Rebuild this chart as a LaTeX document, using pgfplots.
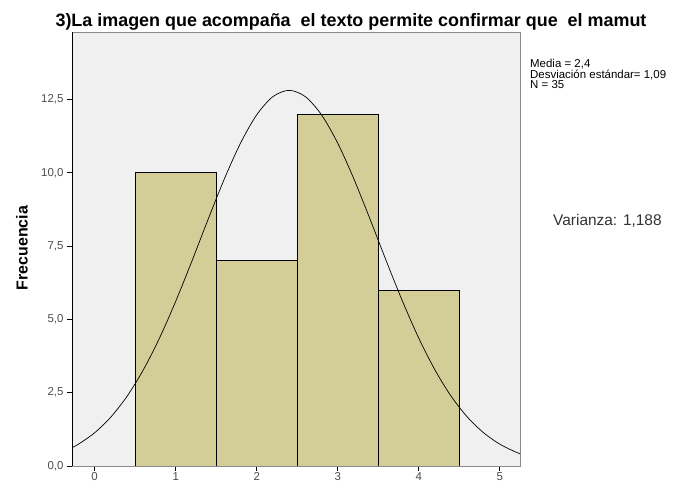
\documentclass[border=0pt]{standalone}
\usepackage{fontspec}
\setmainfont{Liberation Sans}
\usepackage{pgfplots}
\pgfplotsset{compat=1.18}
\definecolor{BarFill}{HTML}{D3CE98}
\definecolor{PlotBg}{HTML}{F0F0F0}
\definecolor{FrameGray}{HTML}{8A8A8A}
\begin{document}
\begin{tikzpicture}
\begin{axis}[
  at={(0,0)}, anchor=south west,
  scale only axis,
  width=448bp, height=434bp,
  xmin=-0.28, xmax=5.25,
  ymin=0, ymax=14.8,
  axis background/.style={fill=PlotBg},
  axis line style={FrameGray, line width=0.9pt},
  xtick={0,1,2,3,4,5},
  ytick={0,2.5,5,7.5,10,12.5},
  tick align=outside,
  xtick pos=bottom, ytick pos=left,
  major tick length=5bp,
  tick style={black, line width=0.8pt},
  yticklabel style={/pgf/number format/.cd, fixed, fixed zerofill, precision=1, use comma},
  xticklabel style={inner sep=1pt},
  /pgf/number format/assume math mode=true,
  tick label style={font=\fontsize{11.5}{13}\selectfont, text=black!70},
  clip=true,
]
\addplot[ybar, bar width=1, bar shift=0, fill=BarFill, draw=black, line width=0.6pt]
  coordinates {(1,10) (2,7) (3,12) (4,6)};
\addplot[black, line width=0.7pt, smooth, no marks] coordinates {
  (-0.3,0.596) (-0.2,0.745) (0.0,1.135) (0.2,1.671) (0.4,2.379) (0.6,3.277)
  (0.8,4.362) (1.0,5.615) (1.2,6.988) (1.4,8.410) (1.6,9.786) (1.8,11.009)
  (2.0,11.976) (2.2,12.596) (2.4,12.81) (2.6,12.596) (2.8,11.976) (3.0,11.009)
  (3.2,9.786) (3.4,8.410) (3.6,6.988) (3.8,5.615) (4.0,4.362) (4.2,3.277)
  (4.4,2.379) (4.6,1.671) (4.8,1.135) (5.0,0.745) (5.2,0.473) (5.3,0.372)
};
\draw[black, line width=0.8pt] (rel axis cs:0,1) -- (rel axis cs:0,0) -- (rel axis cs:1,0);
\end{axis}
\node[anchor=base, inner sep=0pt, font=\bfseries\fontsize{18}{20}\selectfont] at (279bp,439bp)
  {3)La imagen que acompaña\ \ el texto permite confirmar que\ \ el mamut};
\node[rotate=90, font=\bfseries\fontsize{16}{18}\selectfont] at (-50bp,218bp) {Frecuencia};
\node[anchor=base west, inner sep=0pt, font=\fontsize{11.5}{12}\selectfont] at (458bp,398bp) {Media = 2,4};
\node[anchor=base west, inner sep=0pt, font=\fontsize{11.5}{12}\selectfont] at (458bp,387.5bp) {Desviación estándar= 1,09};
\node[anchor=base west, inner sep=0pt, font=\fontsize{11.5}{12}\selectfont] at (458bp,377bp) {N = 35};
\node[anchor=base west, inner sep=0pt, font=\fontsize{15.5}{17}\selectfont, text=black!80]
  at (481bp,240bp) {Varianza: 1,188};
\pgfresetboundingbox
\useasboundingbox (-72bp,-18bp) rectangle (602bp,466bp);
\end{tikzpicture}
\end{document}
